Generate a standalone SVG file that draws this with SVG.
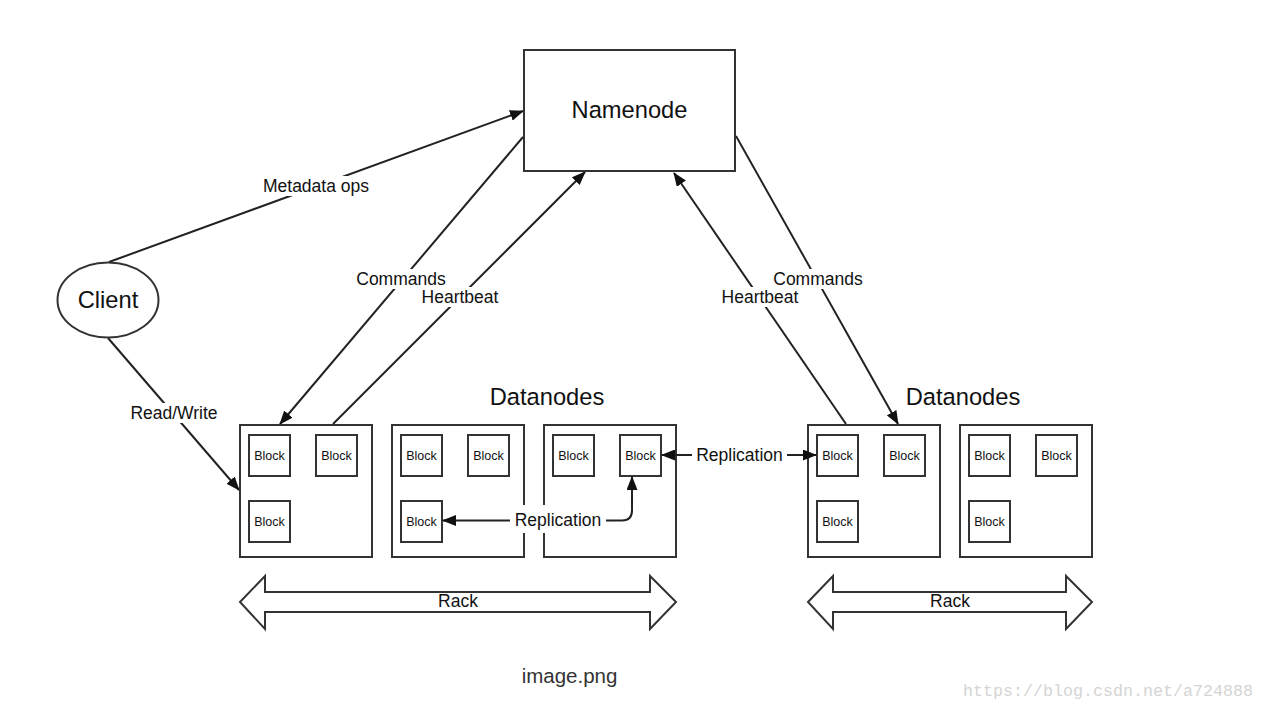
<svg xmlns="http://www.w3.org/2000/svg" width="1266" height="710" viewBox="0 0 1266 710">
<style>
.box{fill:#fff;stroke:#333;stroke-width:2}
.blk{fill:#fff;stroke:#333;stroke-width:2}
.ln{fill:none;stroke:#222;stroke-width:2}
.t{font-family:"Liberation Sans",Arial,sans-serif;fill:#111;text-anchor:middle;dominant-baseline:central}
.big{font-size:23.7px}
.lab{font-size:17.5px}
.bt{font-size:12.5px}
.bg{fill:#fff;stroke:none}
</style>
<defs>
<marker id="ah" viewBox="0 0 14 11" markerWidth="14" markerHeight="11" refX="13" refY="5.5" orient="auto-start-reverse" markerUnits="userSpaceOnUse">
<path d="M0,0 L14,5.5 L0,11 z" fill="#111"/>
</marker>
</defs>
<rect width="1266" height="710" fill="#fff"/>

<g id="connectors">
<line class="ln" x1="109" y1="262" x2="523" y2="111" marker-end="url(#ah)"/>
<line class="ln" x1="523" y1="137" x2="280" y2="424" marker-end="url(#ah)"/>
<line class="ln" x1="333" y1="424" x2="585" y2="172" marker-end="url(#ah)"/>
<line class="ln" x1="846" y1="424" x2="674" y2="173" marker-end="url(#ah)"/>
<line class="ln" x1="736" y1="136" x2="898" y2="424" marker-end="url(#ah)"/>
<line class="ln" x1="108" y1="338" x2="239" y2="490" marker-end="url(#ah)"/>
<rect class="bg" x="258" y="176" width="116" height="20"/>
<text class="t lab" x="316" y="186">Metadata ops</text>
<rect class="bg" x="353" y="269" width="96" height="20"/>
<text class="t lab" x="401" y="279">Commands</text>
<rect class="bg" x="418" y="287" width="84" height="20"/>
<text class="t lab" x="460" y="297">Heartbeat</text>
<rect class="bg" x="718" y="287" width="84" height="20"/>
<text class="t lab" x="760" y="297">Heartbeat</text>
<rect class="bg" x="770" y="269" width="96" height="20"/>
<text class="t lab" x="818" y="279">Commands</text>
<rect class="bg" x="126" y="403" width="96" height="20"/>
<text class="t lab" x="174" y="413">Read/Write</text>
</g>

<g id="namenode">
<rect class="box" x="524" y="50" width="211" height="121"/>
<text class="t big" x="629.5" y="110">Namenode</text>
</g>

<g id="client">
<ellipse class="box" cx="108" cy="300" rx="50.5" ry="37.5"/>
<text class="t big" x="108" y="300">Client</text>
</g>

<g id="datanodes-label-1"><text class="t big" x="547" y="397">Datanodes</text></g>
<g id="datanodes-label-2"><text class="t big" x="963" y="397">Datanodes</text></g>

<g id="dn1">
<rect class="box" x="240" y="425" width="132" height="132"/>
<rect class="blk" x="249" y="435" width="41" height="41"/><text class="t bt" x="269.5" y="455.5">Block</text>
<rect class="blk" x="316" y="435" width="41" height="41"/><text class="t bt" x="336.5" y="455.5">Block</text>
<rect class="blk" x="249" y="501" width="41" height="41"/><text class="t bt" x="269.5" y="521.5">Block</text>
</g>
<g id="dn2">
<rect class="box" x="392" y="425" width="132" height="132"/>
<rect class="blk" x="401" y="435" width="41" height="41"/><text class="t bt" x="421.5" y="455.5">Block</text>
<rect class="blk" x="468" y="435" width="41" height="41"/><text class="t bt" x="488.5" y="455.5">Block</text>
<rect class="blk" x="401" y="501" width="41" height="41"/><text class="t bt" x="421.5" y="521.5">Block</text>
</g>
<g id="dn3">
<rect class="box" x="544" y="425" width="132" height="132"/>
<rect class="blk" x="553" y="435" width="41" height="41"/><text class="t bt" x="573.5" y="455.5">Block</text>
<rect class="blk" x="620" y="435" width="41" height="41"/><text class="t bt" x="640.5" y="455.5">Block</text>
</g>
<g id="dn4">
<rect class="box" x="808" y="425" width="132" height="132"/>
<rect class="blk" x="817" y="435" width="41" height="41"/><text class="t bt" x="837.5" y="455.5">Block</text>
<rect class="blk" x="884" y="435" width="41" height="41"/><text class="t bt" x="904.5" y="455.5">Block</text>
<rect class="blk" x="817" y="501" width="41" height="41"/><text class="t bt" x="837.5" y="521.5">Block</text>
</g>
<g id="dn5">
<rect class="box" x="960" y="425" width="132" height="132"/>
<rect class="blk" x="969" y="435" width="41" height="41"/><text class="t bt" x="989.5" y="455.5">Block</text>
<rect class="blk" x="1036" y="435" width="41" height="41"/><text class="t bt" x="1056.5" y="455.5">Block</text>
<rect class="blk" x="969" y="501" width="41" height="41"/><text class="t bt" x="989.5" y="521.5">Block</text>
</g>

<g id="replication-connectors">
<path class="ln" d="M443,520.5 H622 Q632,520.5 632,510.5 V477" marker-start="url(#ah)" marker-end="url(#ah)"/>
<rect class="bg" x="510" y="505" width="96" height="28"/>
<text class="t lab" x="558" y="520">Replication</text>
<line class="ln" x1="662" y1="455" x2="816" y2="455" marker-start="url(#ah)" marker-end="url(#ah)"/>
<rect class="bg" x="692" y="445" width="95" height="20"/>
<text class="t lab" x="739.5" y="455">Replication</text>
</g>

<g id="rack1">
<path class="box" d="M240,602 L265,576 L265,592 L650,592 L650,576 L676,602 L650,629 L650,612 L265,612 L265,629 Z"/>
<text class="t lab" x="458" y="601">Rack</text>
</g>
<g id="rack2">
<path class="box" d="M808,602 L833,576 L833,592 L1066,592 L1066,576 L1092,602 L1066,629 L1066,612 L833,612 L833,629 Z"/>
<text class="t lab" x="950" y="601">Rack</text>
</g>

<g id="caption">
<text x="569.5" y="675" style="font-family:'Liberation Sans',Arial,sans-serif;font-size:20.5px;fill:#333;text-anchor:middle;dominant-baseline:central">image.png</text>
<text x="963" y="696" textLength="290" lengthAdjust="spacingAndGlyphs" style="font-family:'Liberation Mono','Courier New',monospace;font-size:16px;fill:#d4d4d4">https://blog.csdn.net/a724888</text>
</g>
</svg>
